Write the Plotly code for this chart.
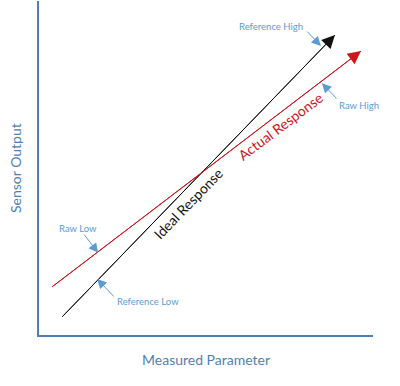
import plotly.graph_objects as go

# Data (arbitrary units, 0-100)
ideal_x = [6.9, 88.6]
ideal_y = [5.4, 89.8]
actual_x = [3.9, 96.4]
actual_y = [14.4, 85.0]

# callouts: label, text position, arrow tail, arrow tip
callout_labels = ["Reference High", "Raw High", "Raw Low", "Reference Low"]
callout_text_x = [69.5, 95.8, 11.7, 32.6]
callout_text_y = [92.5, 68.6, 32.0, 9.9]
callout_tail_x = [79.9, 89.5, 13.2, 22.8]
callout_tail_y = [91.3, 70.4, 30.5, 11.1]
callout_tip_x = [84.4, 84.7, 17.7, 17.4]
callout_tip_y = [86.5, 75.4, 24.6, 16.8]

line_labels = ["Ideal Response", "Actual Response"]
line_label_x = [44.6, 72.2]
line_label_y = [39.5, 62.3]
line_label_angle = [-46, -37]

FONT = "Lato"
BLACK = "#111111"
RED = "#d0141c"
AXIS = "#4f7fb3"
CALLOUT = "#5b9bd5"

fig = go.Figure()
fig.add_trace(go.Scatter(x=ideal_x, y=ideal_y, mode="lines",
                         line=dict(color=BLACK, width=1), hoverinfo="skip"))
fig.add_trace(go.Scatter(x=actual_x, y=actual_y, mode="lines",
                         line=dict(color=RED, width=1), hoverinfo="skip"))

ann = []
# arrowheads on the response lines
for xs, ys, col in [(ideal_x, ideal_y, BLACK), (actual_x, actual_y, RED)]:
    ann.append(dict(x=xs[-1], y=ys[-1], ax=xs[0], ay=ys[0], xref="x", yref="y",
                    axref="x", ayref="y", text="", showarrow=True,
                    arrowhead=2, arrowsize=2.6, arrowwidth=1, arrowcolor=col,
                    standoff=0, startstandoff=0))
# line labels
for t, x, y, a, col in zip(line_labels, line_label_x, line_label_y, line_label_angle, [BLACK, RED]):
    ann.append(dict(x=x, y=y, xref="x", yref="y", text=t, showarrow=False,
                    textangle=a, font=dict(family=FONT, size=14, color=col)))
# callouts
for t, tx, ty, ax, ay, px, py in zip(callout_labels, callout_text_x, callout_text_y,
                                     callout_tail_x, callout_tail_y, callout_tip_x, callout_tip_y):
    ann.append(dict(x=tx, y=ty, xref="x", yref="y", text=t, showarrow=False,
                    font=dict(family=FONT, size=9.5, color=CALLOUT)))
    ann.append(dict(x=px, y=py, ax=ax, ay=ay, xref="x", yref="y", axref="x", ayref="y",
                    text="", showarrow=True, arrowhead=2, arrowsize=1.9, arrowwidth=1,
                    arrowcolor=CALLOUT, standoff=0, startstandoff=0))
# axis titles
ann.append(dict(x=-0.072, y=0.5, xref="paper", yref="paper", text="Sensor Output",
                xanchor="center", yanchor="middle",
                textangle=-90, showarrow=False, font=dict(family=FONT, size=14, color=AXIS)))
ann.append(dict(x=0.5, y=-0.072, xref="paper", yref="paper", text="Measured Parameter",
                xanchor="center", yanchor="middle",
                showarrow=False, font=dict(family=FONT, size=14, color=AXIS)))

fig.update_layout(
    width=400, height=386,
    margin=dict(l=39, r=27, t=1, b=51),
    paper_bgcolor="white", plot_bgcolor="white",
    showlegend=False,
    annotations=ann,
    xaxis=dict(range=[0, 100], showgrid=False, zeroline=False, showticklabels=False,
               ticks="", showline=True, linecolor=AXIS, linewidth=2, fixedrange=True),
    yaxis=dict(range=[0, 100], showgrid=False, zeroline=False, showticklabels=False,
               ticks="", showline=True, linecolor=AXIS, linewidth=2, fixedrange=True),
)

fig.write_html("out.html", config={"displayModeBar": False},
               post_script="document.body.style.margin='0';document.body.style.overflow='hidden';")
